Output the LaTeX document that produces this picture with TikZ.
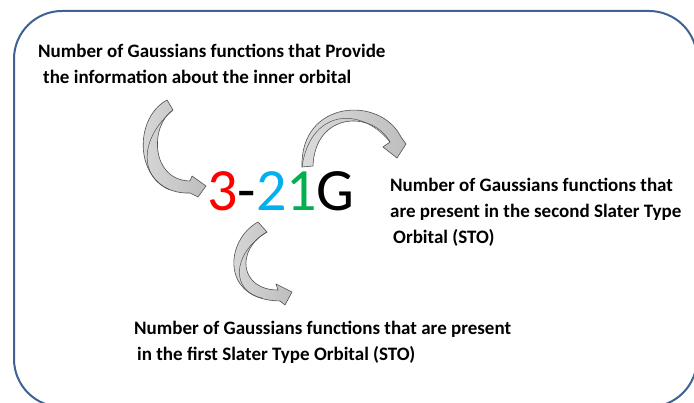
\documentclass[tikz,border=0pt]{standalone}
\usepackage{fontspec}
\setmainfont{Carlito}
\definecolor{frame}{RGB}{62,98,148}
\definecolor{arrowfill}{RGB}{190,190,190}
\definecolor{arrowline}{RGB}{80,80,80}
\definecolor{cred}{RGB}{255,0,0}
\definecolor{cblue}{RGB}{0,176,240}
\definecolor{cgreen}{RGB}{0,176,80}
\begin{document}
\begin{tikzpicture}[x=1pt,y=-1pt,
  lbl/.style={anchor=north west,inner sep=0pt,align=left,font=\bfseries\fontsize{19}{26}\selectfont},
  blockarrow/.style={left color=arrowfill!55,right color=arrowfill!100!black,draw=arrowline,line width=0.6pt,line join=round},
  twist/.style={draw=arrowline,line width=0.5pt}]
\useasboundingbox (0,0) rectangle (694,403);
\clip (0,0) rectangle (694,403);
\fill[white] (0,0) rectangle (694,403);
\draw[frame,line width=2pt,rounded corners=48pt] (14,11) rectangle (697,407);

% labels
\node[lbl] (top) at (38,44) {Number of Gaussians functions that Provide\\\hspace*{5pt}the information about the inner orbital};
\node[lbl] (right) at (390,178) {Number of Gaussians functions that\\are present in the second Slater Type\\\hspace*{3pt}Orbital (STO)};
\node[lbl] (bottom) at (134,321) {Number of Gaussians functions that are present\\\hspace*{3pt}in the first Slater Type Orbital (STO)};
\node[inner sep=0pt,font=\fontsize{60}{60}\selectfont] (basis) at (281,191)
  {\textcolor{cred}{3}-\textcolor{cblue}{2}\textcolor{cgreen}{1}G};

% curved block arrows
\path[blockarrow] (167,100) .. controls (130,120) and (135,195) .. (190,193)
  -- (198,197) -- (206,186) -- (192,176) -- (190,181)
  .. controls (150,180) and (150,125) .. (173,110) -- cycle;
\draw[twist] (173,110) .. controls (138,140) and (140,178) .. (170,190);

\path[blockarrow] (302,167) .. controls (300,100) and (380,95) .. (401,137)
  -- (406,144) -- (397,158) -- (383,147) -- (390,142)
  .. controls (372,110) and (315,112) .. (313,166) -- cycle;
\draw[twist] (302,167) .. controls (310,110) and (360,105) .. (390,142);

\path[blockarrow] (258,222) .. controls (225,240) and (220,300) .. (280,301)
  -- (285,305) -- (292,292) -- (276,284) -- (278,290)
  .. controls (240,290) and (235,250) .. (267,232) -- cycle;
\draw[twist] (267,232) .. controls (230,255) and (232,292) .. (262,298);
\end{tikzpicture}
\end{document}
